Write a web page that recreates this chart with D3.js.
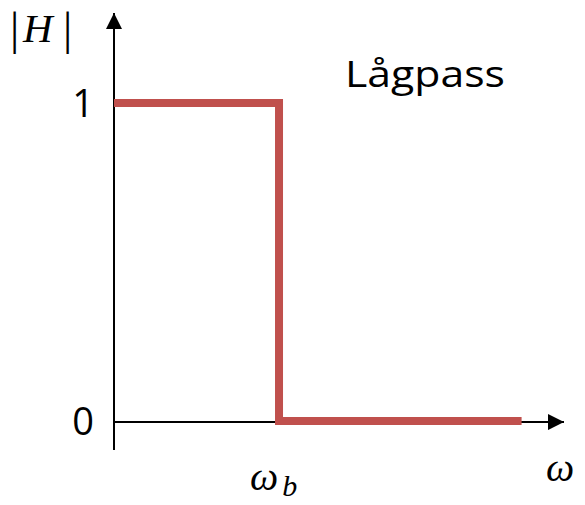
<!DOCTYPE html>
<html>
<head>
<meta charset="utf-8">
<script src="https://cdn.jsdelivr.net/npm/d3@7"></script>
<style>
  body { margin: 0; background: #fff; }
  .tick-label { font-family: 'Open Sans', sans-serif; font-size: 38px; fill: #000; }
  .math { font-family: 'Liberation Serif', serif; font-style: italic; fill: #000; }
</style>
</head>
<body>
<svg id="chart" width="585" height="505"></svg>
<script>
// step response |H| of an ideal lowpass, omega in units of omega_b
const omegaPts = [0, 1, 1, 2.47];
const magPts = [1, 1, 0, 0];
const yTickVals = [0, 1];
const yTickLabels = ['0', '1'];
const titleText = 'Lågpass';

const svg = d3.select('#chart');

const xScale = d3.scaleLinear().domain([0, 2.727]).range([114, 564]);
const yScale = d3.scaleLinear().domain([-0.091, 1.283]).range([450, 13]);

// arrow marker
svg.append('defs').append('marker')
    .attr('id', 'arrow')
    .attr('viewBox', '0 0 10 10')
    .attr('refX', 10).attr('refY', 5)
    .attr('markerWidth', 16).attr('markerHeight', 16)
    .attr('markerUnits', 'userSpaceOnUse')
    .attr('orient', 'auto')
  .append('path')
    .attr('d', 'M0,0 L10,5 L0,10 Z')
    .attr('fill', '#000');

// axes (drawn as arrows)
svg.append('line')
    .attr('x1', xScale(0)).attr('x2', xScale(0))
    .attr('y1', yScale(-0.091)).attr('y2', yScale(1.283))
    .attr('stroke', '#000').attr('stroke-width', 2)
    .attr('marker-end', 'url(#arrow)');

svg.append('line')
    .attr('x1', xScale(0)).attr('x2', xScale(2.727))
    .attr('y1', yScale(0) + 1).attr('y2', yScale(0) + 1)
    .attr('stroke', '#000').attr('stroke-width', 2)
    .attr('marker-end', 'url(#arrow)');

// tick labels via axis
const yAxis = d3.axisLeft(yScale).tickValues(yTickVals).tickSize(0).tickPadding(20)
    .tickFormat((d, i) => yTickLabels[i]);
const yAxisG = svg.append('g')
    .attr('transform', `translate(${xScale(0)}, 0)`)
    .call(yAxis);
yAxisG.select('.domain').remove();
yAxisG.selectAll('text')
    .attr('class', 'tick-label')
    .attr('dy', '0.36em')
    .attr('font-size', null)
    .attr('font-family', null);

// step line
const line = d3.line()
    .x((d, i) => xScale(omegaPts[i]))
    .y((d, i) => yScale(magPts[i]));

svg.append('path')
    .datum(omegaPts)
    .attr('d', line)
    .attr('fill', 'none')
    .attr('stroke', '#C0504D')
    .attr('stroke-width', 8)
    .attr('stroke-linejoin', 'miter');

// labels
svg.append('text')
    .attr('class', 'tick-label')
    .attr('x', 345).attr('y', 87)
    .attr('textLength', 160)
    .attr('lengthAdjust', 'spacingAndGlyphs')
    .style('font-size', '36px')
    .text(titleText);

// |H|
svg.append('text')
    .attr('class', 'math')
    .attr('x', 10).attr('y', 44)
    .style('font-size', '46px')
    .style('font-style', 'normal')
    .text('|');
svg.append('text')
    .attr('class', 'math')
    .attr('x', 23).attr('y', 42)
    .style('font-size', '41px')
    .text('H');
svg.append('text')
    .attr('class', 'math')
    .attr('x', 63).attr('y', 44)
    .style('font-size', '46px')
    .style('font-style', 'normal')
    .text('|');

const wb = svg.append('text')
    .attr('class', 'math')
    .attr('x', xScale(1) - 29).attr('y', 490)
    .style('font-size', '40px')
    .text('ω');
wb.append('tspan')
    .attr('dx', 4)
    .attr('dy', 6)
    .style('font-size', '30px')
    .text('b');

svg.append('text')
    .attr('class', 'math')
    .attr('x', 546).attr('y', 481)
    .style('font-size', '40px')
    .text('ω');
</script>
</body>
</html>
